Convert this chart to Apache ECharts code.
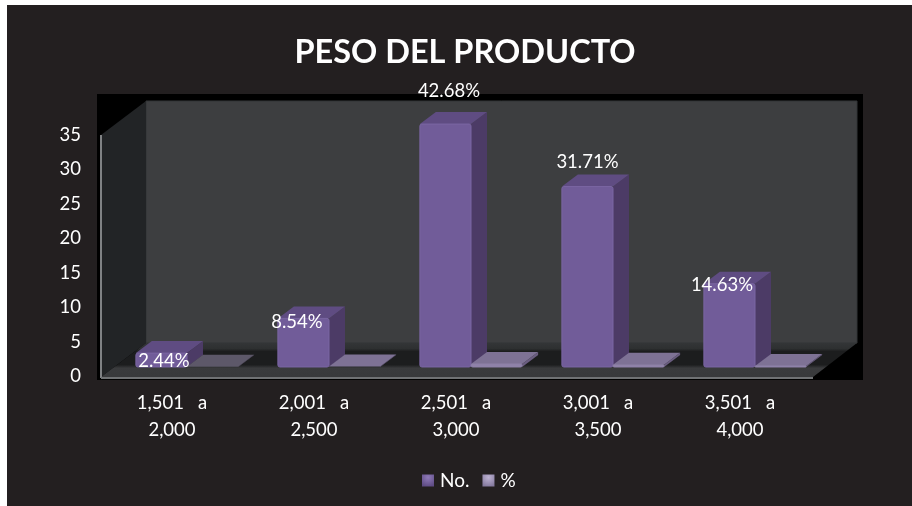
<!DOCTYPE html>
<html>
<head>
<meta charset="utf-8">
<style>
  html, body { margin: 0; padding: 0; background: #fff; overflow: hidden; }
  #chart { position: absolute; left: 7px; top: 5px; width: 905px; height: 501px; }
</style>
<script src="https://cdn.jsdelivr.net/npm/echarts@6/dist/echarts.min.js"></script>
</head>
<body>
<div id="chart"></div>
<script>
// Weight ranges and the two measures per range
const categories = ['1,501   a\n2,000', '2,001   a\n2,500', '2,501   a\n3,000', '3,001   a\n3,500', '3,501   a\n4,000'];
const countValues = [2, 7, 35, 26, 12];
const shareValues = [0.0244, 0.0854, 0.4268, 0.3171, 0.1463];
const yTicks = { min: 0, max: 35, interval: 5 };

// Oblique projection settings for the box-like bars
const FONT = 'Lato, "Open Sans", sans-serif';
const BAR_RATIO = 0.36;      // bar width as a share of the category band
const GROUP_SHIFT = { x: 15, y: 9 };   // bars stand in the middle of the floor
const BAR_DEPTH = { x: 16, y: 12 };
const WALL_DEPTH = { x: 45, y: 34 };
const HEIGHT_GAIN = 1.008;

// Hand placement of the value labels, relative to each bar's top front edge
const labelNudge = [[2.5, 8], [-6.5, 4], [3.5, -33], [0, -25], [-7.5, 1]];

const countFaces = { front: '#715c99', edge: '#7a66a3', side: '#4c3b66', top: '#5f4c82' };
const shareFaces = { front: '#8f82a9', edge: '#8f82a9', side: '#6a5d80', top: '#7e7295' };
const faintShareTop = '#5d5869';

function poly(points, fill, z2) {
  return { type: 'polygon', shape: { points }, style: { fill }, z2: z2 || 0 };
}

function boxShape(api, seriesIndex, faces) {
  const cat = api.value(0), val = api.value(1);
  const band = api.size([1, 0])[0];
  const w = band * BAR_RATIO;
  const zero = api.coord([cat, 0]);
  const peak = api.coord([cat, val]);
  const h = (zero[1] - peak[1]) * HEIGHT_GAIN;
  const x0 = zero[0] + GROUP_SHIFT.x + (seriesIndex - 1) * w;
  const x1 = x0 + w;
  const yb = zero[1] - GROUP_SHIFT.y;
  const yt = yb - h;
  const d = BAR_DEPTH;
  const children = [
    poly([[x1, yb], [x1 + d.x, yb - d.y], [x1 + d.x, yt - d.y], [x1, yt]], faces.side),
    poly([[x0, yt], [x0 + d.x, yt - d.y], [x1 + d.x, yt - d.y], [x1, yt]], faces.top)
  ];
  if (h > 0.6) {
    children.push({
      type: 'rect',
      shape: { x: x0, y: yt, width: w, height: h, r: Math.min(2, h / 2) },
      style: { fill: faces.front, stroke: faces.edge, lineWidth: 1 }
    });
  }
  return { children, x0, x1, yt };
}

function renderCount(params, api) {
  return { type: 'group', children: boxShape(api, 0, countFaces).children };
}

function renderShare(params, api) {
  const cat = api.value(0);
  const faces = cat === 0 ? Object.assign({}, shareFaces, { top: faintShareTop }) : shareFaces;
  const box = boxShape(api, 1, faces);
  // The label sits at the neighbouring count bar, which is much taller
  const w = box.x1 - box.x0;
  const zero = api.coord([cat, 0]);
  const topOfCount = zero[1] - GROUP_SHIFT.y - (zero[1] - api.coord([cat, countValues[cat]])[1]) * HEIGHT_GAIN;
  const nudge = labelNudge[cat];
  box.children.push({
    type: 'text',
    x: box.x0 - w / 2 + nudge[0],
    y: topOfCount + nudge[1],
    z2: 10,
    style: {
      text: (api.value(1) * 100).toFixed(2) + '%',
      fill: '#ffffff',
      font: '18.5px ' + FONT,
      align: 'center',
      verticalAlign: 'middle'
    }
  });
  return { type: 'group', children: box.children };
}

// Backdrop: black plate, back wall, side wall and floor of the 3D box
function renderRoom(params) {
  const c = params.coordSys;
  const L = c.x, R = c.x + c.width, T = c.y, B = c.y + c.height + 1;
  const D = WALL_DEPTH;
  const floorGrad = new echarts.graphic.LinearGradient(0, 0, 0, 1, [
    { offset: 0, color: '#333537' },
    { offset: 0.16, color: '#2e3031' },
    { offset: 0.25, color: '#1c1d1e' },
    { offset: 0.64, color: '#1c1d1e' },
    { offset: 0.74, color: '#3a3b3d' },
    { offset: 1, color: '#38393b' }
  ]);
  return {
    type: 'group',
    children: [
      { type: 'rect', shape: { x: L - 4, y: T - 41, width: R - L + 56, height: B - T + 44 }, style: { fill: '#000000' } },
      { type: 'rect', shape: { x: L + D.x, y: T - D.y, width: R - L + D.x - 44, height: B - T }, style: { fill: '#3d3e40', stroke: '#333436', lineWidth: 1 } },
      poly([[L, T], [L + D.x, T - D.y], [L + D.x, B - D.y], [L, B]], '#222426'),
      poly([[L, B], [L + D.x, B - D.y], [R + D.x + 1, B - D.y], [R + 2, B]], floorGrad),
      { type: 'line', shape: { x1: L, y1: T, x2: L, y2: B + 1 }, style: { stroke: '#808284', lineWidth: 2 } },
      { type: 'line', shape: { x1: L, y1: B + 1, x2: R + 2, y2: B + 1 }, style: { stroke: '#707274', lineWidth: 2 } }
    ]
  };
}

const legendChip = (light, dark) => new echarts.graphic.RadialGradient(0.5, 0.25, 0.75, [
  { offset: 0, color: light },
  { offset: 1, color: dark }
]);

const chart = echarts.init(document.getElementById('chart'), null, { renderer: 'canvas' });
chart.setOption({
  backgroundColor: '#231f20',
  animation: false,
  title: {
    text: 'PESO DEL PRODUCTO',
    left: 453,
    top: 26,
    textAlign: 'center',
    textStyle: { color: '#ffffff', fontFamily: FONT, fontWeight: 'bold', fontSize: 32.5 }
  },
  grid: { left: 94, top: 130, width: 710, height: 241 },
  legend: {
    left: 410,
    top: 461,
    itemWidth: 12,
    itemHeight: 12,
    itemGap: 13,
    textStyle: { color: '#ffffff', fontFamily: FONT, fontSize: 19, padding: [0, 0, 0, 1] },
    data: [
      { name: 'No.', icon: 'rect', itemStyle: { color: legendChip('#8f7ab8', '#5f4c85') } },
      { name: '%', icon: 'rect', itemStyle: { color: legendChip('#bdb2d2', '#857a9f') } }
    ]
  },
  xAxis: {
    type: 'category',
    data: categories,
    axisLine: { show: false },
    axisTick: { show: false },
    axisLabel: { color: '#ffffff', fontFamily: FONT, fontSize: 18.5, lineHeight: 27, margin: 14, interval: 0 }
  },
  yAxis: {
    type: 'value',
    min: yTicks.min,
    max: yTicks.max,
    interval: yTicks.interval,
    axisLine: { show: false },
    axisTick: { show: false },
    splitLine: { show: false },
    axisLabel: { color: '#ffffff', fontFamily: FONT, fontSize: 18.5, margin: 20 }
  },
  series: [
    { name: 'room', type: 'custom', silent: true, z: 1, renderItem: renderRoom, data: [[0, 0]], encode: { x: 0, y: 1 } },
    {
      name: 'No.', type: 'custom', z: 2, renderItem: renderCount,
      itemStyle: { color: countFaces.front },
      encode: { x: 0, y: 1 },
      data: countValues.map((v, i) => [i, v])
    },
    {
      name: '%', type: 'custom', z: 3, renderItem: renderShare,
      itemStyle: { color: shareFaces.front },
      encode: { x: 0, y: 1 },
      data: shareValues.map((v, i) => [i, v])
    }
  ]
});
</script>
</body>
</html>
